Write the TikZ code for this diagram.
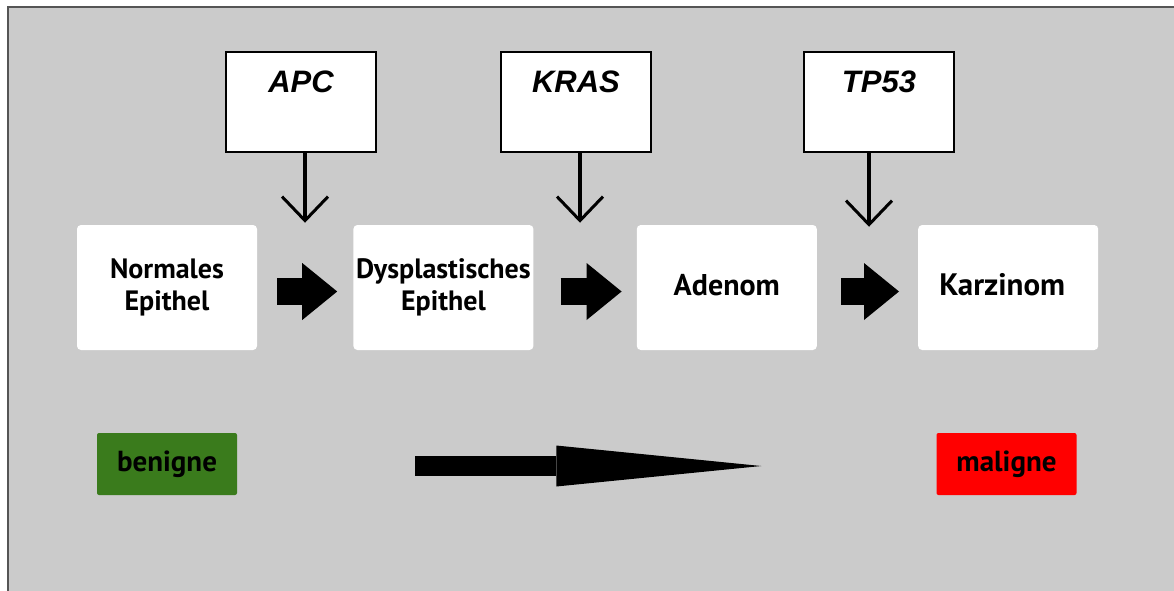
\documentclass[tikz,border=0pt]{standalone}
\usepackage{fontspec}
\setmainfont{PT Sans}
\newfontfamily\genefont{Liberation Sans}
\usetikzlibrary{arrows.meta, positioning}

\definecolor{bggray}{HTML}{CBCBCB}
\definecolor{framegray}{HTML}{555555}
\definecolor{benigngreen}{HTML}{3A7B1C}
\definecolor{malignred}{HTML}{FF0000}

\begin{document}
\begin{tikzpicture}[
    x=1pt, y=-1pt,
    stage/.style={rectangle, fill=white, rounded corners=4pt, align=center, inner sep=0pt,
        minimum width=180pt, minimum height=125pt, font=\bfseries\fontsize{28}{32}\selectfont},
    gene/.style={rectangle, draw, line width=1.5pt, fill=white, inner sep=0pt,
        minimum width=150pt, text height=40pt, text depth=60pt,
        font=\genefont\bfseries\itshape\fontsize{31}{36}\selectfont},
    tag/.style={rectangle, rounded corners=2pt, inner sep=0pt, minimum width=140pt, minimum height=62pt,
        font=\bfseries\fontsize{29}{30}\selectfont},
    hit/.style={line width=3.5pt, -{Straight Barb[length=24pt, width=46pt, line width=3pt]}},
    step arrow/.style={line width=27pt, -{Triangle[length=35pt, width=57pt, line width=0pt]}},
    trend/.style={line width=20pt, -{Triangle[length=205pt, width=41pt, line width=0pt]}}
]

% Background
\useasboundingbox (0,0) rectangle (1174,590);
\fill[bggray] (8,7) rectangle (1180,600);
\draw[framegray, line width=1.5pt] (8,600) -- (8,7) -- (1180,7);

% Stages
\node[stage] (normal) at (167,287.5) {Normales\\Epithel};
\node[stage] (dysp) [right=96pt of normal] {Dysplastisches\\Epithel};
\node[stage, font=\bfseries\fontsize{30}{32}\selectfont] (adenom) [right=103pt of dysp] {\raisebox{6pt}{Adenom}};
\node[stage, font=\bfseries\fontsize{31}{32}\selectfont] (karz) [right=101pt of adenom] {\raisebox{6pt}{Karzinom}\hspace{12pt}};

% Genes
\node[gene] (apc) at (301,102) {APC};
\node[gene] (kras) at (576,102) {KRAS};
\node[gene] (tp53) at (879,102) {TP53};

% Benign / malign
\node[tag, fill=benigngreen] (benign) at (167,464) {benigne};
\node[tag, fill=malignred] (malign) at (1006.5,464) {maligne};

% Arrows
\draw[hit] ([xshift=4pt]apc.south) -- ++(0,70);
\draw[hit] ([xshift=4pt]kras.south) -- ++(0,70);
\draw[hit] ([xshift=-10pt]tp53.south) -- ++(0,74);

\draw[step arrow, shorten <=20pt, shorten >=16pt] ([yshift=-4pt]normal.east) -- ([yshift=-4pt]dysp.west);
\draw[step arrow, shorten <=27pt, shorten >=15pt] ([yshift=-4pt]dysp.east) -- ([yshift=-4pt]adenom.west);
\draw[step arrow, shorten <=24pt, shorten >=19pt] ([yshift=-4pt]adenom.east) -- ([yshift=-4pt]karz.west);

\draw[trend, shorten <=178pt, shorten >=175pt] ([yshift=-2pt]benign.east) -- ([yshift=-2pt]malign.west);

\end{tikzpicture}
\end{document}
